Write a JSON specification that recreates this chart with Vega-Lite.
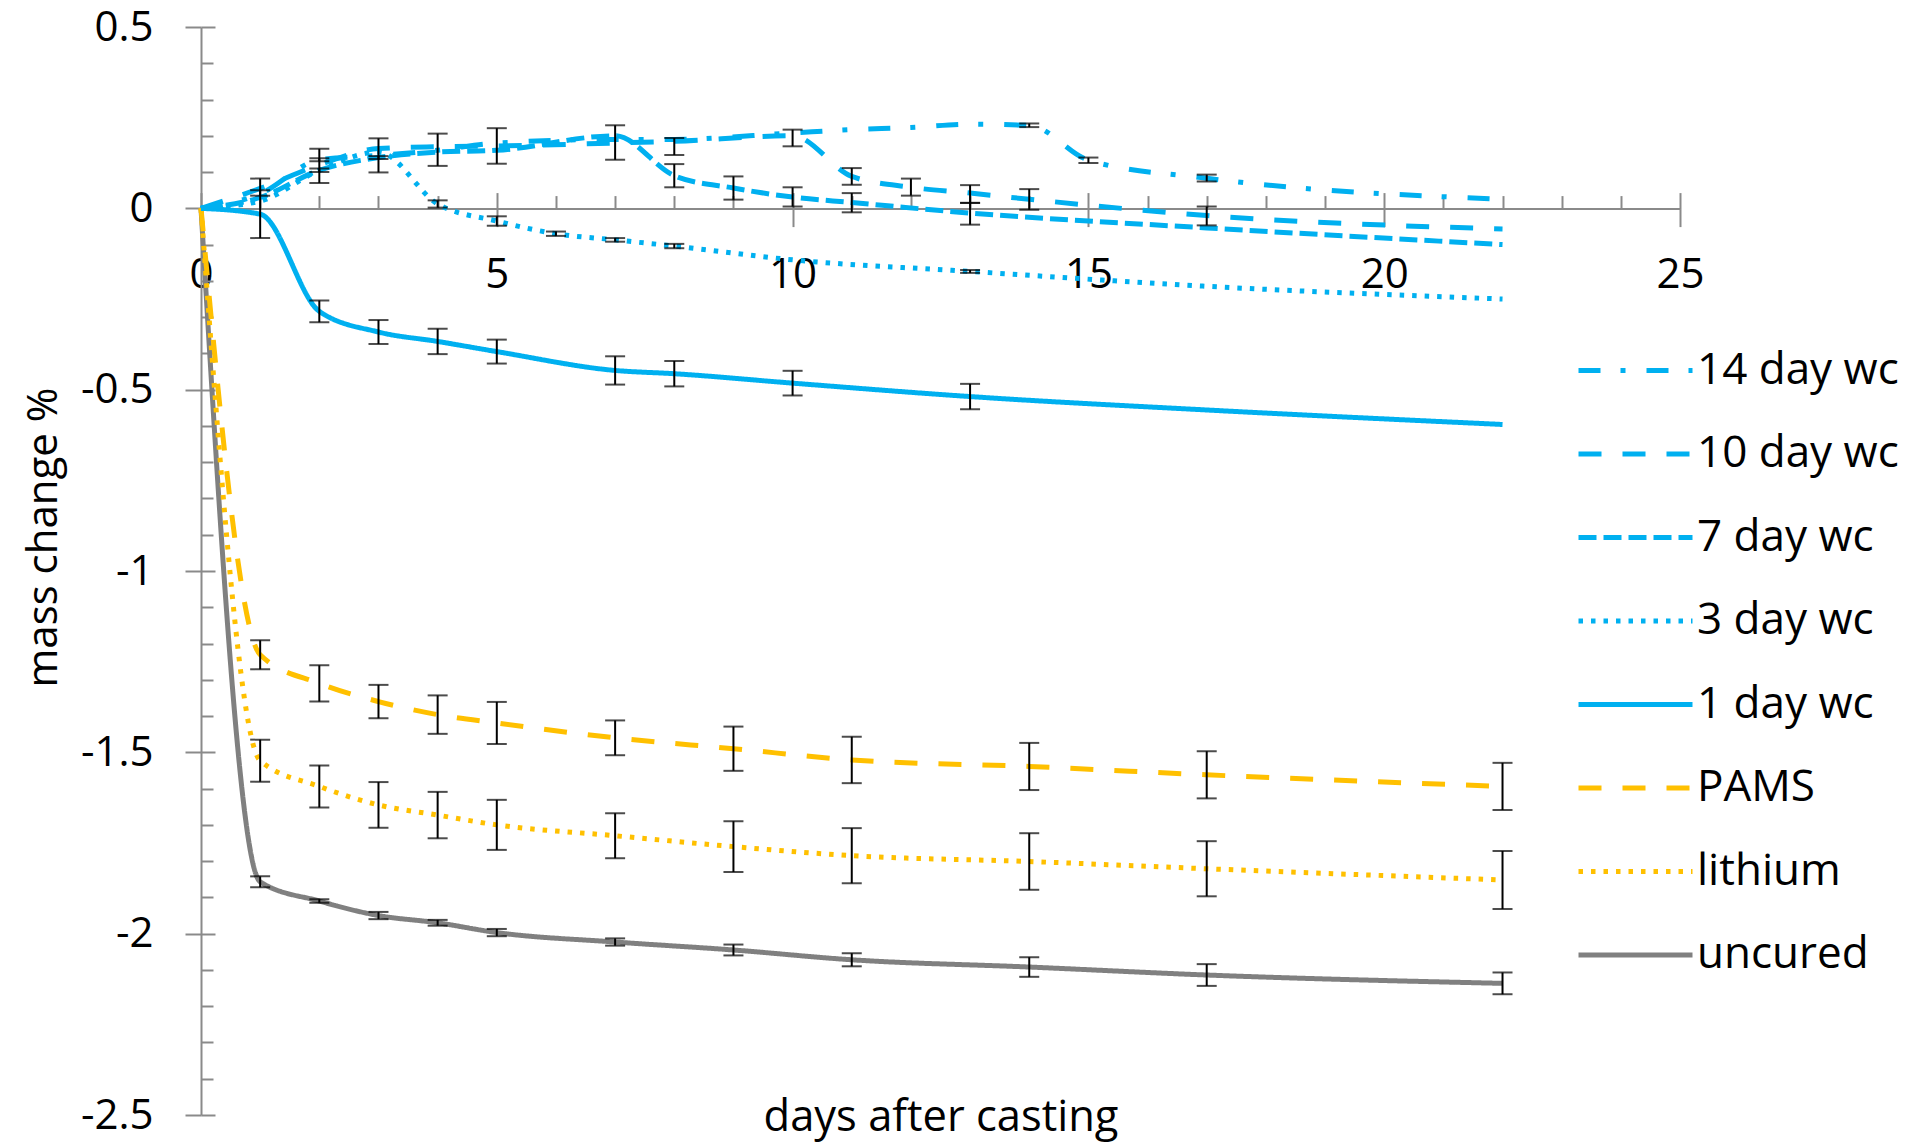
{
  "$schema": "https://vega.github.io/schema/vega-lite/v6.json",
  "width": 1479,
  "height": 1088,
  "autosize": {"type": "none"},
  "padding": {"left": 201, "top": 27, "right": 233, "bottom": 31},
  "background": "white",
  "config": {
    "view": {"stroke": null},
    "font": "Open Sans",
    "axis": {"labelFont": "Open Sans", "titleFont": "Open Sans", "labelColor": "#000000", "titleColor": "#000000", "titleFontWeight": "normal", "grid": false, "labelFlush": false, "labelOverlap": false},
    "legend": {
      "orient": "none",
      "legendX": 1375,
      "legendY": 284,
      "symbolType": "stroke",
      "symbolSize": 12996,
      "symbolStrokeWidth": 5,
      "labelFontSize": 44,
      "labelFont": "Open Sans",
      "labelColor": "#000000",
      "rowPadding": 1.5,
      "padding": 0,
      "labelOffset": 2,
      "labelLimit": 0
    }
  },
  "datasets": {
    "pts": [
      {"s": "uncured", "d": 0, "v": 0},
      {"s": "uncured", "d": 1, "v": -1.857, "lo": -1.872, "hi": -1.842},
      {"s": "uncured", "d": 2, "v": -1.91, "lo": -1.915, "hi": -1.905},
      {"s": "uncured", "d": 3, "v": -1.95, "lo": -1.96, "hi": -1.94},
      {"s": "uncured", "d": 4, "v": -1.97, "lo": -1.978, "hi": -1.962},
      {"s": "uncured", "d": 5, "v": -1.997, "lo": -2.007, "hi": -1.987},
      {"s": "uncured", "d": 7, "v": -2.023, "lo": -2.033, "hi": -2.013},
      {"s": "uncured", "d": 9, "v": -2.045, "lo": -2.06, "hi": -2.03},
      {"s": "uncured", "d": 11, "v": -2.072, "lo": -2.09, "hi": -2.054},
      {"s": "uncured", "d": 14, "v": -2.092, "lo": -2.119, "hi": -2.065},
      {"s": "uncured", "d": 17, "v": -2.114, "lo": -2.144, "hi": -2.084},
      {"s": "uncured", "d": 22, "v": -2.137, "lo": -2.167, "hi": -2.107},

      {"s": "lithium", "d": 0, "v": 0},
      {"s": "lithium", "d": 1, "v": -1.523, "lo": -1.581, "hi": -1.465},
      {"s": "lithium", "d": 2, "v": -1.594, "lo": -1.652, "hi": -1.536},
      {"s": "lithium", "d": 3, "v": -1.645, "lo": -1.708, "hi": -1.582},
      {"s": "lithium", "d": 4, "v": -1.673, "lo": -1.737, "hi": -1.609},
      {"s": "lithium", "d": 5, "v": -1.7, "lo": -1.769, "hi": -1.631},
      {"s": "lithium", "d": 7, "v": -1.73, "lo": -1.792, "hi": -1.668},
      {"s": "lithium", "d": 9, "v": -1.76, "lo": -1.83, "hi": -1.69},
      {"s": "lithium", "d": 11, "v": -1.785, "lo": -1.861, "hi": -1.709},
      {"s": "lithium", "d": 14, "v": -1.801, "lo": -1.879, "hi": -1.723},
      {"s": "lithium", "d": 17, "v": -1.821, "lo": -1.897, "hi": -1.745},
      {"s": "lithium", "d": 22, "v": -1.852, "lo": -1.932, "hi": -1.772},

      {"s": "PAMS", "d": 0, "v": 0},
      {"s": "PAMS", "d": 1, "v": -1.231, "lo": -1.271, "hi": -1.191},
      {"s": "PAMS", "d": 2, "v": -1.31, "lo": -1.36, "hi": -1.26},
      {"s": "PAMS", "d": 3, "v": -1.36, "lo": -1.406, "hi": -1.314},
      {"s": "PAMS", "d": 4, "v": -1.396, "lo": -1.449, "hi": -1.343},
      {"s": "PAMS", "d": 5, "v": -1.419, "lo": -1.477, "hi": -1.361},
      {"s": "PAMS", "d": 7, "v": -1.46, "lo": -1.508, "hi": -1.412},
      {"s": "PAMS", "d": 9, "v": -1.49, "lo": -1.551, "hi": -1.429},
      {"s": "PAMS", "d": 11, "v": -1.521, "lo": -1.585, "hi": -1.457},
      {"s": "PAMS", "d": 14, "v": -1.539, "lo": -1.604, "hi": -1.474},
      {"s": "PAMS", "d": 17, "v": -1.562, "lo": -1.627, "hi": -1.497},
      {"s": "PAMS", "d": 22, "v": -1.594, "lo": -1.659, "hi": -1.529},

      {"s": "1 day wc", "d": 0, "v": 0},
      {"s": "1 day wc", "d": 1, "v": -0.016, "lo": -0.082, "hi": 0.05},
      {"s": "1 day wc", "d": 2, "v": -0.284, "lo": -0.314, "hi": -0.254},
      {"s": "1 day wc", "d": 3, "v": -0.341, "lo": -0.374, "hi": -0.308},
      {"s": "1 day wc", "d": 4, "v": -0.367, "lo": -0.402, "hi": -0.332},
      {"s": "1 day wc", "d": 5, "v": -0.395, "lo": -0.428, "hi": -0.362},
      {"s": "1 day wc", "d": 7, "v": -0.447, "lo": -0.486, "hi": -0.408},
      {"s": "1 day wc", "d": 8, "v": -0.456, "lo": -0.491, "hi": -0.421},
      {"s": "1 day wc", "d": 10, "v": -0.482, "lo": -0.516, "hi": -0.448},
      {"s": "1 day wc", "d": 13, "v": -0.519, "lo": -0.554, "hi": -0.484},
      {"s": "1 day wc", "d": 17, "v": -0.556},
      {"s": "1 day wc", "d": 22, "v": -0.596},

      {"s": "3 day wc", "d": 0, "v": 0},
      {"s": "3 day wc", "d": 1, "v": 0.02},
      {"s": "3 day wc", "d": 2, "v": 0.105},
      {"s": "3 day wc", "d": 3, "v": 0.155},
      {"s": "3 day wc", "d": 4, "v": 0.012, "lo": 0.002, "hi": 0.022},
      {"s": "3 day wc", "d": 5, "v": -0.035, "lo": -0.048, "hi": -0.022},
      {"s": "3 day wc", "d": 6, "v": -0.07, "lo": -0.076, "hi": -0.064},
      {"s": "3 day wc", "d": 7, "v": -0.087, "lo": -0.092, "hi": -0.082},
      {"s": "3 day wc", "d": 8, "v": -0.104, "lo": -0.11, "hi": -0.098},
      {"s": "3 day wc", "d": 10, "v": -0.142},
      {"s": "3 day wc", "d": 13, "v": -0.174, "lo": -0.178, "hi": -0.17},
      {"s": "3 day wc", "d": 17, "v": -0.215},
      {"s": "3 day wc", "d": 22, "v": -0.25},

      {"s": "7 day wc", "d": 0, "v": 0},
      {"s": "7 day wc", "d": 1, "v": 0.03},
      {"s": "7 day wc", "d": 2, "v": 0.105, "lo": 0.1, "hi": 0.11},
      {"s": "7 day wc", "d": 3, "v": 0.14, "lo": 0.136, "hi": 0.144},
      {"s": "7 day wc", "d": 4, "v": 0.155},
      {"s": "7 day wc", "d": 5, "v": 0.16},
      {"s": "7 day wc", "d": 7, "v": 0.2},
      {"s": "7 day wc", "d": 8, "v": 0.09, "lo": 0.058, "hi": 0.122},
      {"s": "7 day wc", "d": 9, "v": 0.056, "lo": 0.024, "hi": 0.088},
      {"s": "7 day wc", "d": 10, "v": 0.031, "lo": 0.005, "hi": 0.058},
      {"s": "7 day wc", "d": 11, "v": 0.016, "lo": -0.011, "hi": 0.042},
      {"s": "7 day wc", "d": 13, "v": -0.013, "lo": -0.045, "hi": 0.015},
      {"s": "7 day wc", "d": 17, "v": -0.054},
      {"s": "7 day wc", "d": 22, "v": -0.1},

      {"s": "10 day wc", "d": 0, "v": 0},
      {"s": "10 day wc", "d": 1, "v": 0.055, "lo": 0.035, "hi": 0.082},
      {"s": "10 day wc", "d": 2, "v": 0.12, "lo": 0.07, "hi": 0.164},
      {"s": "10 day wc", "d": 3, "v": 0.165},
      {"s": "10 day wc", "d": 4, "v": 0.17},
      {"s": "10 day wc", "d": 5, "v": 0.172, "lo": 0.123, "hi": 0.221},
      {"s": "10 day wc", "d": 7, "v": 0.18, "lo": 0.134, "hi": 0.229},
      {"s": "10 day wc", "d": 8, "v": 0.185, "lo": 0.147, "hi": 0.194},
      {"s": "10 day wc", "d": 10, "v": 0.2, "lo": 0.171, "hi": 0.217},
      {"s": "10 day wc", "d": 11, "v": 0.088, "lo": 0.065, "hi": 0.111},
      {"s": "10 day wc", "d": 12, "v": 0.058, "lo": 0.035, "hi": 0.082},
      {"s": "10 day wc", "d": 13, "v": 0.042, "lo": 0.015, "hi": 0.064},
      {"s": "10 day wc", "d": 14, "v": 0.025, "lo": -0.004, "hi": 0.053},
      {"s": "10 day wc", "d": 17, "v": -0.02, "lo": -0.047, "hi": 0.005},
      {"s": "10 day wc", "d": 22, "v": -0.057},

      {"s": "14 day wc", "d": 0, "v": 0},
      {"s": "14 day wc", "d": 1, "v": 0.04},
      {"s": "14 day wc", "d": 2, "v": 0.134, "lo": 0.13, "hi": 0.138},
      {"s": "14 day wc", "d": 3, "v": 0.146, "lo": 0.099, "hi": 0.193},
      {"s": "14 day wc", "d": 4, "v": 0.16, "lo": 0.117, "hi": 0.206},
      {"s": "14 day wc", "d": 5, "v": 0.18},
      {"s": "14 day wc", "d": 7, "v": 0.19},
      {"s": "14 day wc", "d": 8, "v": 0.19},
      {"s": "14 day wc", "d": 10, "v": 0.208},
      {"s": "14 day wc", "d": 11, "v": 0.217},
      {"s": "14 day wc", "d": 12, "v": 0.223},
      {"s": "14 day wc", "d": 13, "v": 0.232},
      {"s": "14 day wc", "d": 14, "v": 0.229, "lo": 0.224, "hi": 0.234},
      {"s": "14 day wc", "d": 15, "v": 0.133, "lo": 0.125, "hi": 0.14},
      {"s": "14 day wc", "d": 17, "v": 0.083, "lo": 0.074, "hi": 0.093},
      {"s": "14 day wc", "d": 22, "v": 0.025}
    ]
  },
  "data": {"name": "pts"},
  "resolve": {"axis": {"x": "independent", "y": "independent"}},
  "layer": [
    {
      "mark": {"type": "line", "interpolate": "monotone", "strokeWidth": 5},
      "encoding": {
        "x": {
          "field": "d", "type": "quantitative",
          "scale": {"domain": [0, 25], "nice": false, "zero": false},
          "axis": {
            "orient": "bottom", "offset": -906.4, "values": [0, 5, 10, 15, 20, 25],
            "tickSize": 18, "tickWidth": 2, "tickColor": "#8a8a8a",
            "domainColor": "#8a8a8a", "domainWidth": 2,
            "labelFontSize": 42, "labelPadding": 48, "labelBaseline": "middle",
            "title": null
          }
        },
        "y": {
          "field": "v", "type": "quantitative",
          "scale": {"domain": [-2.5, 0.5], "nice": false, "zero": false},
          "axis": {
            "orient": "left",
            "values": [0.5, 0, -0.5, -1, -1.5, -2, -2.5],
            "tickSize": 16, "tickWidth": 2, "tickColor": "#8a8a8a",
            "domainColor": "#8a8a8a", "domainWidth": 2,
            "labelFontSize": 42, "labelPadding": 32,
            "labelExpr": "datum.value < 0 ? '-' + format(-datum.value, '~g') : format(datum.value, '~g')",
            "title": "mass change %", "titleFontSize": 42,
            "titleX": -158, "titleY": 510, "titleAngle": -90,
            "titleBaseline": "middle", "titleAlign": "center"
          }
        },
        "color": {
          "field": "s", "type": "nominal",
          "scale": {
            "domain": ["14 day wc", "10 day wc", "7 day wc", "3 day wc", "1 day wc", "PAMS", "lithium", "uncured"],
            "range": ["#00B0F0", "#00B0F0", "#00B0F0", "#00B0F0", "#00B0F0", "#FFC000", "#FFC000", "#808080"]
          },
          "legend": {"title": null}
        },
        "strokeDash": {
          "field": "s", "type": "nominal",
          "scale": {
            "domain": ["14 day wc", "10 day wc", "7 day wc", "3 day wc", "1 day wc", "PAMS", "lithium", "uncured"],
            "range": [[22, 20, 5, 21], [23, 21], [18, 7], [4.5, 8], [1, 0], [23, 21], [4.5, 8], [1, 0]]
          },
          "legend": {"title": null}
        }
      }
    },
    {
      "transform": [{"filter": "datum.lo != null"}],
      "mark": {"type": "rule", "color": "#000000", "strokeWidth": 2},
      "encoding": {
        "x": {
          "field": "d", "type": "quantitative",
          "scale": {"domain": [0, 25], "nice": false, "zero": false},
          "axis": {
            "orient": "bottom", "offset": -906.4, "values": [0, 5, 10, 15, 20, 25],
            "tickSize": -16, "tickWidth": 2, "tickColor": "#8a8a8a",
            "labels": false, "domain": false, "title": null
          }
        },
        "y": {
          "field": "lo", "type": "quantitative",
          "scale": {"domain": [-2.5, 0.5], "nice": false, "zero": false},
          "axis": {
            "orient": "left",
            "values": [0.5, 0, -0.5, -1, -1.5, -2, -2.5],
            "tickSize": -14, "tickWidth": 2, "tickColor": "#8a8a8a",
            "labels": false, "domain": false, "title": null
          }
        },
        "y2": {"field": "hi"}
      }
    },
    {
      "transform": [{"filter": "datum.lo != null"}],
      "mark": {"type": "tick", "orient": "horizontal", "color": "#000000", "size": 20, "thickness": 2},
      "encoding": {
        "x": {
          "field": "d", "type": "quantitative",
          "scale": {"domain": [0, 25], "nice": false, "zero": false},
          "axis": {
            "orient": "bottom", "offset": -906.4,
            "values": [1, 2, 3, 4, 6, 7, 8, 9, 11, 12, 13, 14, 16, 17, 18, 19, 21, 22, 23, 24],
            "tickSize": -13, "tickWidth": 2, "tickColor": "#8a8a8a",
            "labels": false, "domain": false, "title": null
          }
        },
        "y": {
          "field": "lo", "type": "quantitative",
          "scale": {"domain": [-2.5, 0.5], "nice": false, "zero": false},
          "axis": {
            "orient": "left",
            "values": [0.4, 0.3, 0.2, 0.1, -0.1, -0.2, -0.3, -0.4, -0.6, -0.7, -0.8, -0.9, -1.1, -1.2, -1.3, -1.4, -1.6, -1.7, -1.8, -1.9, -2.1, -2.2, -2.3, -2.4],
            "tickSize": -12, "tickWidth": 2, "tickColor": "#8a8a8a",
            "labels": false, "domain": false, "title": null
          }
        }
      }
    },
    {
      "transform": [{"filter": "datum.hi != null"}],
      "mark": {"type": "tick", "orient": "horizontal", "color": "#000000", "size": 20, "thickness": 2},
      "encoding": {
        "x": {
          "field": "d", "type": "quantitative",
          "scale": {"domain": [0, 25], "nice": false, "zero": false},
          "axis": {
            "orient": "bottom", "labels": false, "ticks": false, "domain": false,
            "title": "days after casting", "titleFontSize": 43.5,
            "titleBaseline": "middle", "titleY": 2
          }
        },
        "y": {
          "field": "hi", "type": "quantitative",
          "scale": {"domain": [-2.5, 0.5], "nice": false, "zero": false},
          "axis": null
        }
      }
    }
  ]
}
